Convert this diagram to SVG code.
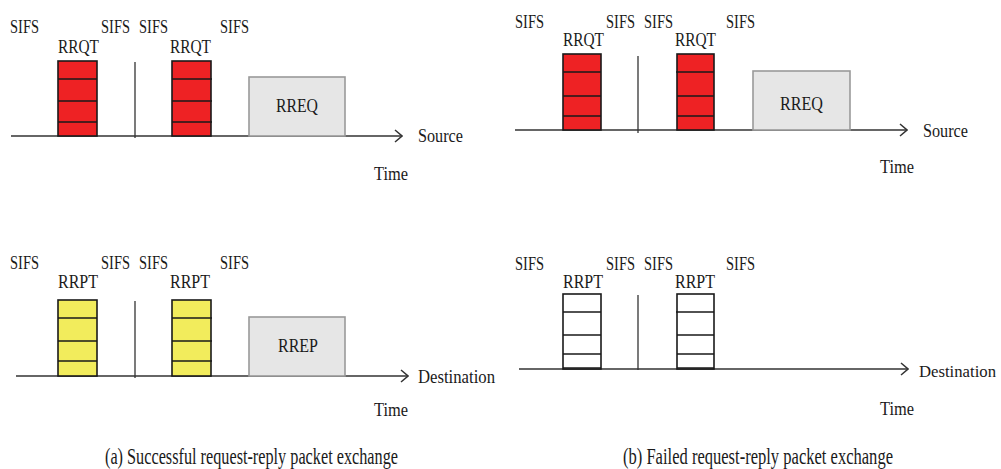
<svg xmlns="http://www.w3.org/2000/svg" width="1001" height="469" viewBox="0 0 1001 469">
<style>
text{font-family:"Liberation Serif","Times New Roman",serif;fill:#1a1a1a;}
.lb{font-size:18px;}
.cap{font-size:23px;}
.axis{stroke:#333;stroke-width:1.6;fill:none;}
.div{stroke:#333;stroke-width:1.3;fill:none;}
.red{fill:#ee2224;stroke:#1a1a1a;stroke-width:1.6;}
.yel{fill:#f2ec5c;stroke:#1a1a1a;stroke-width:1.6;}
.wht{fill:#fff;stroke:#1a1a1a;stroke-width:1.6;}
.sep{stroke:#1a1a1a;stroke-width:1.6;}
.gray{fill:#e6e6e6;stroke:#9a9a9a;stroke-width:1.6;}
</style>
<defs>
<marker id="chev" viewBox="0 0 10 14" refX="9" refY="7" markerWidth="10" markerHeight="14" markerUnits="userSpaceOnUse" orient="auto">
<path d="M2 1 L9 7 L2 13" fill="none" stroke="#333" stroke-width="1.5"/>
</marker>
</defs>

<g id="connectors">
<line class="axis" x1="11" y1="136" x2="402" y2="136" marker-end="url(#chev)"/>
<line class="div" x1="135" y1="62" x2="135" y2="138"/>
<line class="axis" x1="16" y1="376" x2="408" y2="376" marker-end="url(#chev)"/>
<line class="div" x1="135" y1="301" x2="135" y2="378"/>
<line class="axis" x1="515" y1="130" x2="907" y2="130" marker-end="url(#chev)"/>
<line class="div" x1="638" y1="56" x2="638" y2="133"/>
<line class="axis" x1="519" y1="369" x2="908" y2="369" marker-end="url(#chev)"/>
<line class="div" x1="638" y1="295" x2="638" y2="370"/>
</g>

<g id="a-source">
<g id="a-rrqt1"><rect class="red" x="58" y="61" width="39" height="75"/><path class="sep" d="M58 79H97M58 101H97M58 122H97"/></g>
<g id="a-rrqt2"><rect class="red" x="172" y="61" width="39" height="75"/><path class="sep" d="M172 79H212M172 101H212M172 122H212"/></g>
<g id="a-rreq"><rect class="gray" x="249" y="77" width="96" height="59"/><text class="lb" x="276" y="112" textLength="42" lengthAdjust="spacingAndGlyphs">RREQ</text></g>
<text class="lb" x="10" y="33" textLength="29" lengthAdjust="spacingAndGlyphs">SIFS</text>
<text class="lb" x="58" y="53" textLength="41" lengthAdjust="spacingAndGlyphs">RRQT</text>
<text class="lb" x="101" y="33" textLength="29" lengthAdjust="spacingAndGlyphs">SIFS</text>
<text class="lb" x="139" y="33" textLength="29" lengthAdjust="spacingAndGlyphs">SIFS</text>
<text class="lb" x="170" y="53" textLength="41" lengthAdjust="spacingAndGlyphs">RRQT</text>
<text class="lb" x="220" y="33" textLength="29" lengthAdjust="spacingAndGlyphs">SIFS</text>
<text class="lb" x="418" y="142" textLength="45" lengthAdjust="spacingAndGlyphs">Source</text>
<text class="lb" x="374" y="180" textLength="34" lengthAdjust="spacingAndGlyphs">Time</text>
</g>

<g id="a-destination">
<g id="a-rrpt1"><rect class="yel" x="58" y="300" width="39" height="76"/><path class="sep" d="M58 318H97M58 341H97M58 361H97"/></g>
<g id="a-rrpt2"><rect class="yel" x="172" y="300" width="39" height="76"/><path class="sep" d="M172 318H212M172 341H212M172 361H212"/></g>
<g id="a-rrep"><rect class="gray" x="249" y="317" width="96" height="59"/><text class="lb" x="278" y="352" textLength="40" lengthAdjust="spacingAndGlyphs">RREP</text></g>
<text class="lb" x="10" y="269" textLength="29" lengthAdjust="spacingAndGlyphs">SIFS</text>
<text class="lb" x="58" y="288" textLength="40" lengthAdjust="spacingAndGlyphs">RRPT</text>
<text class="lb" x="101" y="269" textLength="29" lengthAdjust="spacingAndGlyphs">SIFS</text>
<text class="lb" x="139" y="269" textLength="29" lengthAdjust="spacingAndGlyphs">SIFS</text>
<text class="lb" x="170" y="288" textLength="40" lengthAdjust="spacingAndGlyphs">RRPT</text>
<text class="lb" x="220" y="269" textLength="29" lengthAdjust="spacingAndGlyphs">SIFS</text>
<text class="lb" x="418" y="383" textLength="77" lengthAdjust="spacingAndGlyphs">Destination</text>
<text class="lb" x="374" y="416" textLength="34" lengthAdjust="spacingAndGlyphs">Time</text>
</g>

<g id="b-source">
<g id="b-rrqt1"><rect class="red" x="563" y="54" width="38" height="76"/><path class="sep" d="M563 72H601M563 96H601M563 116H601"/></g>
<g id="b-rrqt2"><rect class="red" x="677" y="54" width="37" height="76"/><path class="sep" d="M676 72H714M677 96H714M677 116H714"/></g>
<g id="b-rreq"><rect class="gray" x="753" y="71" width="97" height="59"/><text class="lb" x="780" y="110" textLength="43" lengthAdjust="spacingAndGlyphs">RREQ</text></g>
<text class="lb" x="515" y="28" textLength="29" lengthAdjust="spacingAndGlyphs">SIFS</text>
<text class="lb" x="563" y="46" textLength="41" lengthAdjust="spacingAndGlyphs">RRQT</text>
<text class="lb" x="606" y="28" textLength="29" lengthAdjust="spacingAndGlyphs">SIFS</text>
<text class="lb" x="644" y="28" textLength="29" lengthAdjust="spacingAndGlyphs">SIFS</text>
<text class="lb" x="675" y="46" textLength="41" lengthAdjust="spacingAndGlyphs">RRQT</text>
<text class="lb" x="726" y="28" textLength="29" lengthAdjust="spacingAndGlyphs">SIFS</text>
<text class="lb" x="923" y="137" textLength="45" lengthAdjust="spacingAndGlyphs">Source</text>
<text class="lb" x="880" y="173" textLength="34" lengthAdjust="spacingAndGlyphs">Time</text>
</g>

<g id="b-destination">
<g id="b-rrpt1"><rect class="wht" x="563" y="294" width="38" height="75"/><path class="sep" d="M563 312H601M563 335H601M563 354H601M563 368H601"/></g>
<g id="b-rrpt2"><rect class="wht" x="677" y="294" width="37" height="75"/><path class="sep" d="M676 312H714M677 335H714M677 354H714M677 368H714"/></g>
<text class="lb" x="515" y="270" textLength="29" lengthAdjust="spacingAndGlyphs">SIFS</text>
<text class="lb" x="563" y="288" textLength="40" lengthAdjust="spacingAndGlyphs">RRPT</text>
<text class="lb" x="606" y="270" textLength="29" lengthAdjust="spacingAndGlyphs">SIFS</text>
<text class="lb" x="644" y="270" textLength="29" lengthAdjust="spacingAndGlyphs">SIFS</text>
<text class="lb" x="675" y="288" textLength="40" lengthAdjust="spacingAndGlyphs">RRPT</text>
<text class="lb" x="726" y="270" textLength="29" lengthAdjust="spacingAndGlyphs">SIFS</text>
<text x="919" y="377" font-size="17" textLength="77" lengthAdjust="spacingAndGlyphs">Destination</text>
<text class="lb" x="880" y="415" textLength="34" lengthAdjust="spacingAndGlyphs">Time</text>
</g>

<g id="captions">
<text class="cap" x="105" y="464" textLength="293" lengthAdjust="spacingAndGlyphs">(a)  Successful request-reply packet exchange</text>
<text class="cap" x="623" y="464" textLength="270" lengthAdjust="spacingAndGlyphs">(b)  Failed request-reply packet exchange</text>
</g>
</svg>
